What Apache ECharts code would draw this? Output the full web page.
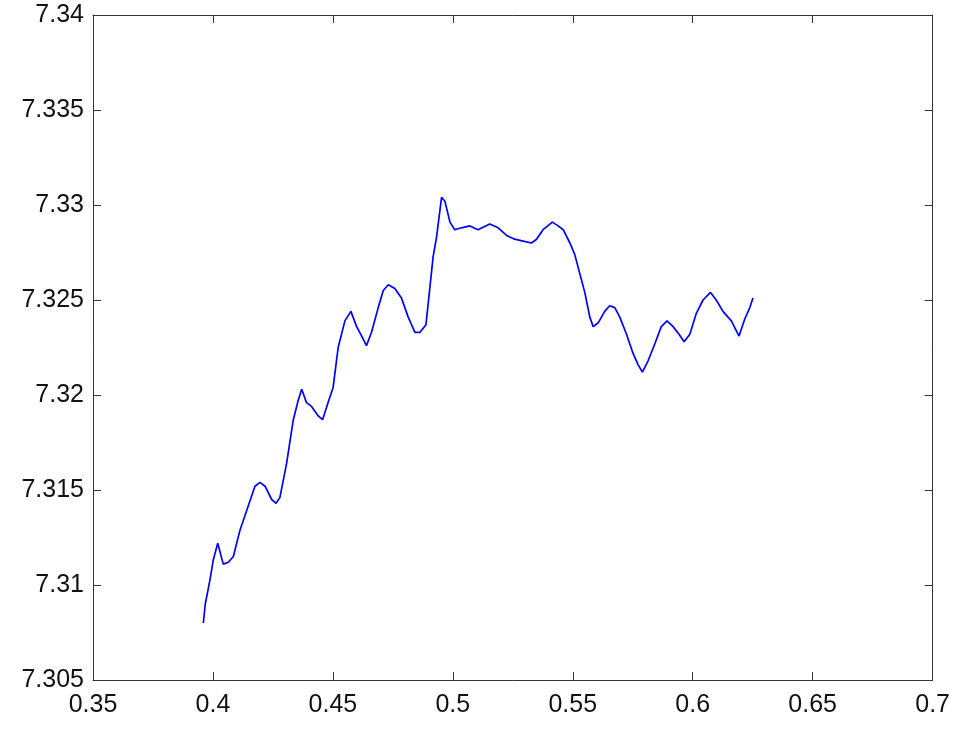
<!DOCTYPE html>
<html>
<head>
<meta charset="utf-8">
<script src="https://cdn.jsdelivr.net/npm/echarts@6/dist/echarts.min.js"></script>
<style>html,body{margin:0;padding:0;background:#fff;}#c{width:953px;height:731px;}</style>
</head>
<body>
<div id="c"></div>
<script>
const xValues = [0.3960,0.3968,0.3988,0.4001,0.4020,0.4043,0.4064,0.4085,0.4113,0.4140,0.4175,0.4196,0.4217,0.4245,0.4263,0.4279,0.4307,0.4335,0.4355,0.4370,0.4390,0.4411,0.4439,0.4457,0.4480,0.4501,0.4522,0.4550,0.4575,0.4599,0.4620,0.4640,0.4661,0.4689,0.4710,0.4731,0.4758,0.4786,0.4814,0.4842,0.4863,0.4870,0.4888,0.4918,0.4932,0.4953,0.4967,0.4988,0.5008,0.5036,0.5071,0.5105,0.5154,0.5189,0.5224,0.5258,0.5293,0.5328,0.5349,0.5376,0.5415,0.5439,0.5460,0.5488,0.5508,0.5529,0.5550,0.5571,0.5585,0.5606,0.5633,0.5654,0.5675,0.5696,0.5724,0.5751,0.5772,0.5790,0.5814,0.5842,0.5869,0.5893,0.5918,0.5943,0.5964,0.5988,0.6015,0.6043,0.6074,0.6098,0.6126,0.6161,0.6193,0.6217,0.6238,0.6251];
const yValues = [7.3080,7.3090,7.3103,7.3113,7.3122,7.3111,7.3112,7.3115,7.3129,7.3139,7.3152,7.3154,7.3152,7.3145,7.3143,7.3146,7.3164,7.3187,7.3197,7.3203,7.3196,7.3194,7.3189,7.3187,7.3196,7.3204,7.3225,7.3239,7.3244,7.3236,7.3231,7.3226,7.3233,7.3246,7.3255,7.3258,7.3256,7.3251,7.3241,7.3233,7.3233,7.3233,7.3237,7.3273,7.3283,7.3304,7.3302,7.3291,7.3287,7.3288,7.3289,7.3287,7.3290,7.3288,7.3284,7.3282,7.3281,7.3280,7.3282,7.3287,7.3291,7.3289,7.3287,7.3280,7.3274,7.3264,7.3254,7.3241,7.3236,7.3238,7.3244,7.3247,7.3246,7.3241,7.3232,7.3222,7.3216,7.3212,7.3218,7.3227,7.3236,7.3239,7.3236,7.3232,7.3228,7.3232,7.3243,7.3250,7.3254,7.3250,7.3244,7.3239,7.3231,7.3240,7.3246,7.3251];
const xTicks = ['0.35','0.4','0.45','0.5','0.55','0.6','0.65','0.7'];
const yTicks = ['7.305','7.31','7.315','7.32','7.325','7.33','7.335','7.34'];

const points = xValues.map((x, i) => [x, yValues[i]]);
const font = {fontFamily: 'Liberation Sans, Arial, sans-serif', fontSize: 25, color: '#111'};
const lineStyle = {color: '#333', width: 1};
const fmtX = v => { const s = xTicks.find(t => Math.abs(parseFloat(t) - v) < 1e-9); return s || ''; };
const fmtY = v => { const s = yTicks.find(t => Math.abs(parseFloat(t) - v) < 1e-9); return s || ''; };

const chart = echarts.init(document.getElementById('c'), null, {renderer: 'canvas'});
chart.setOption({
  animation: false,
  backgroundColor: '#fff',
  grid: {left: 93, top: 15, right: 20, bottom: 51, containLabel: false},
  xAxis: [
    {type: 'value', min: 0.35, max: 0.7, interval: 0.05, position: 'bottom',
     axisLine: {show: true, lineStyle}, axisTick: {show: true, inside: true, length: 8, lineStyle},
     axisLabel: Object.assign({margin: 13, formatter: fmtX, showMinLabel: true, showMaxLabel: true}, font),
     splitLine: {show: false}},
    {type: 'value', min: 0.35, max: 0.7, interval: 0.05, position: 'top',
     axisLine: {show: true, lineStyle}, axisTick: {show: true, inside: true, length: 8, lineStyle},
     axisLabel: {show: false}, splitLine: {show: false}}
  ],
  yAxis: [
    {type: 'value', min: 7.305, max: 7.34, interval: 0.005, position: 'left',
     axisLine: {show: true, lineStyle}, axisTick: {show: true, inside: true, length: 8, lineStyle},
     axisLabel: Object.assign({margin: 9, formatter: fmtY, showMinLabel: true, showMaxLabel: true}, font),
     splitLine: {show: false}},
    {type: 'value', min: 7.305, max: 7.34, interval: 0.005, position: 'right',
     axisLine: {show: true, lineStyle}, axisTick: {show: true, inside: true, length: 8, lineStyle},
     axisLabel: {show: false}, splitLine: {show: false}}
  ],
  series: [{
    type: 'line', data: points, xAxisIndex: 0, yAxisIndex: 0,
    showSymbol: false, symbol: 'none', smooth: false,
    lineStyle: {color: '#0000ff', width: 1.7}
  }]
});
</script>
</body>
</html>
